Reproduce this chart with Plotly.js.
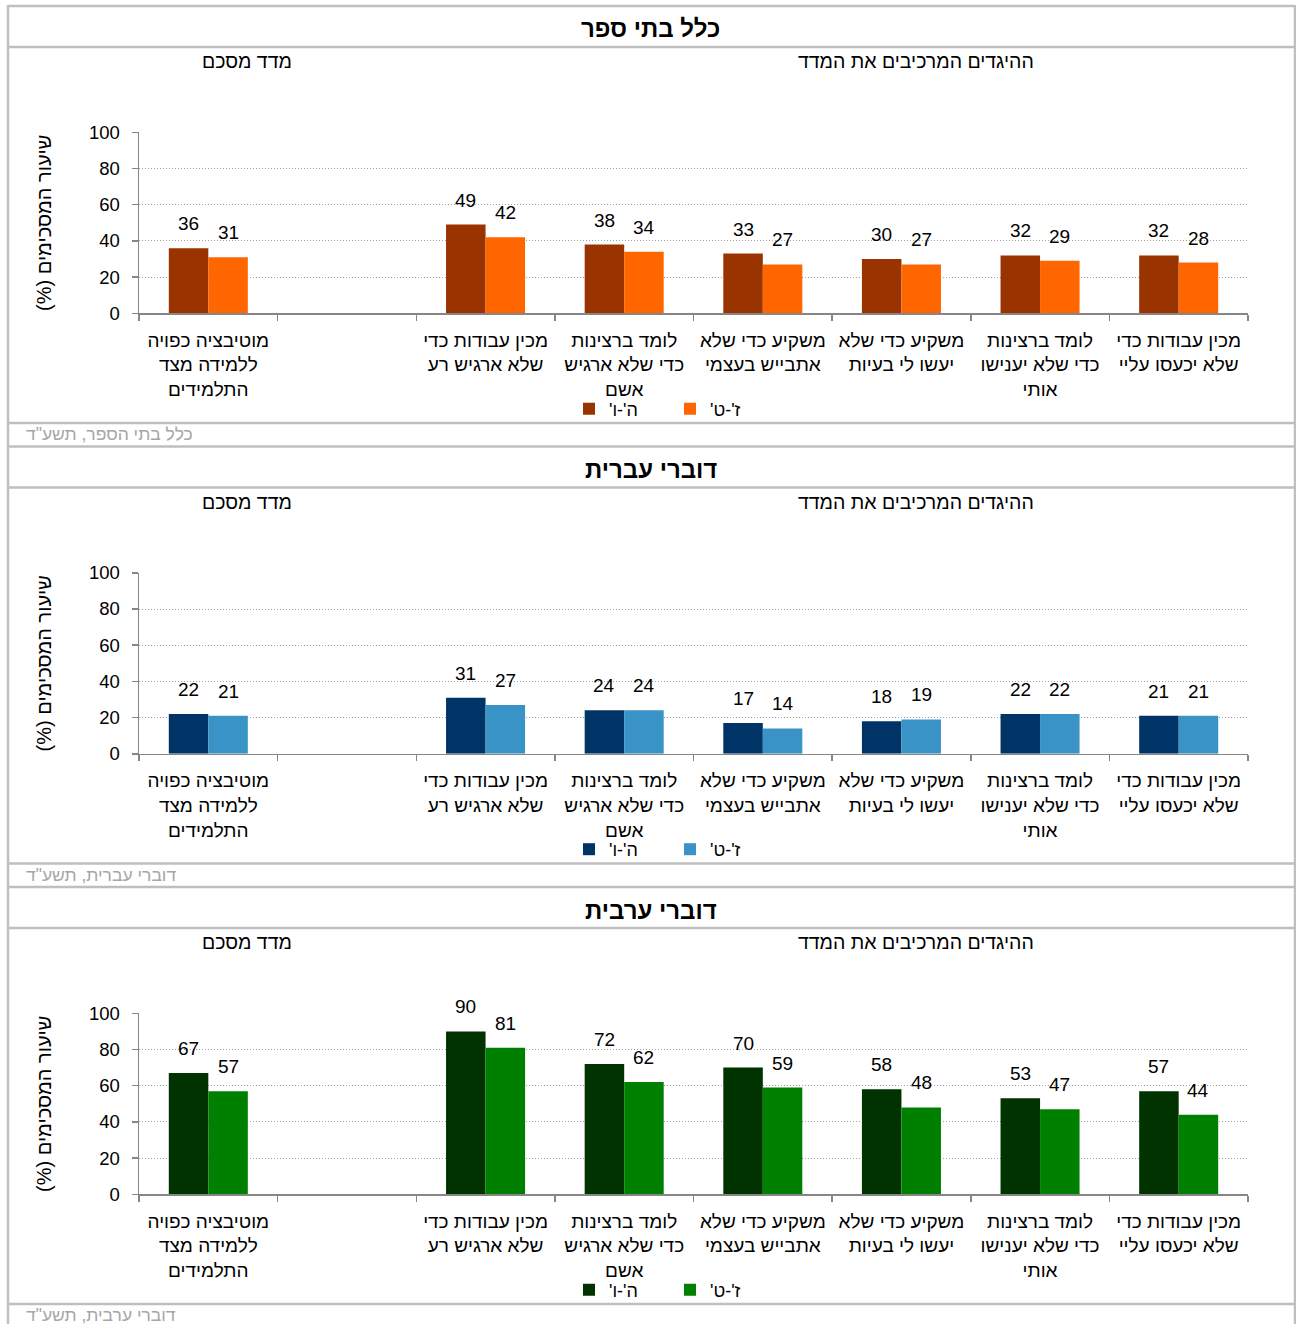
<!DOCTYPE html>
<html>
<head>
<meta charset="utf-8">
<script src="https://cdn.plot.ly/plotly-3.0.1.min.js"></script>
<style>
  html, body { margin: 0; padding: 0; background: #ffffff; }
  #chart { width: 1296px; height: 1324px; }
</style>
</head>
<body>
<div id="chart"></div>
<script>
// ---------- data ----------
const categories = [
  "מוטיבציה כפויה<br>ללמידה מצד<br>התלמידים",
  " ",
  "מכין עבודות כדי<br>שלא ארגיש רע",
  "לומד ברצינות<br>כדי שלא ארגיש<br>אשם",
  "משקיע כדי שלא<br>אתבייש בעצמי",
  "משקיע כדי שלא<br>יעשו לי בעיות",
  "לומד ברצינות<br>כדי שלא יענישו<br>אותי",
  "מכין עבודות כדי<br>שלא יכעסו עליי"
];
const seriesNames = ["ה'-ו'", "ז'-ט'"];
const panelTitles = ["כלל בתי ספר", "דוברי עברית", "דוברי ערבית"];
const footers = ["כלל בתי הספר, תשע\"ד", "דוברי עברית, תשע\"ד", "דוברי ערבית, תשע\"ד"];
const summaryHeader = "מדד מסכם";
const itemsHeader = "ההיגדים המרכיבים את המדד";
const yTitle = "שיעור המסכימים (%)";

const all_g56  = [36, null, 49, 38, 33, 30, 32, 32];
const all_g79  = [31, null, 42, 34, 27, 27, 29, 28];
const heb_g56  = [22, null, 31, 24, 17, 18, 22, 21];
const heb_g79  = [21, null, 27, 24, 14, 19, 22, 21];
const arab_g56 = [67, null, 90, 72, 70, 58, 53, 57];
const arab_g79 = [57, null, 81, 62, 59, 48, 47, 44];

const colors = [["#993300", "#FF6600"], ["#003366", "#3993C6"], ["#003300", "#008000"]];

// ---------- layout helpers ----------
const W = 1296, H = 1324;
const PX = v => v / W;
const PY = v => 1 - v / H;
const RLM = "\u200F";
const rtl = s => RLM + s + RLM;
const FONT = "Liberation Sans, Arial, sans-serif";
const PERIOD = 440.5;

const panels = [[all_g56, all_g79], [heb_g56, heb_g79], [arab_g56, arab_g79]];
const traces = [];
const layout = {
  width: W, height: H,
  margin: {l: 0, r: 0, t: 0, b: 0},
  paper_bgcolor: "#ffffff", plot_bgcolor: "#ffffff",
  font: {family: FONT, size: 18, color: "#000000"},
  barmode: "group", bargap: 0.43, bargroupgap: 0,
  showlegend: true,
  shapes: [], annotations: []
};

panels.forEach((pair, p) => {
  const off = p * PERIOD;
  const sfx = p === 0 ? "" : String(p + 1);
  const xa = "x" + sfx, ya = "y" + sfx, lg = "legend" + sfx;
  pair.forEach((vals, s) => {
    traces.push({
      type: "bar", x: categories, y: vals, name: rtl(seriesNames[s]),
      xaxis: xa, yaxis: ya, legend: lg,
      marker: {color: colors[p][s], line: {width: 0}},
      hoverinfo: "x+y"
    });
    vals.forEach((v, i) => {
      if (v === null) return;
      layout.annotations.push({
        xref: xa, yref: ya, x: i, y: v, xshift: s === 0 ? -19.75 : 19.75, yshift: 12,
        text: String(v), showarrow: false, yanchor: "bottom", xanchor: "center",
        font: {size: 19, color: "#000000", family: FONT}
      });
    });
  });
  const y0 = 313.3 + off, y100 = 132.3 + off;
  layout["xaxis" + sfx] = {
    domain: [PX(139), PX(1248)], anchor: ya, type: "category",
    range: [-0.5, 7.5], tickson: "boundaries", ticks: "outside", ticklen: 6,
    tickcolor: "#868686", tickwidth: 1.5, showline: true, linecolor: "#868686", linewidth: 1.5,
    showgrid: false, zeroline: false, tickfont: {size: 19, color: "#000000"},
    ticklabelstandoff: 9, automargin: false, fixedrange: true
  };
  layout["yaxis" + sfx] = {
    domain: [PY(y0), PY(y100)], anchor: xa, range: [0, 100], dtick: 20, tick0: 0,
    ticks: "outside", ticklen: 6, tickcolor: "#868686", tickwidth: 1.5,
    showline: true, linecolor: "#868686", linewidth: 1.5,
    showgrid: true, gridcolor: "#a0a0a0", griddash: "1px,2px", gridwidth: 1,
    zeroline: false, tickfont: {size: 18.5, color: "#000000"}, ticklabelstandoff: 8,
    title: {text: rtl(yTitle), font: {size: 20, color: "#000000"}, standoff: 32},
    automargin: false, fixedrange: true
  };
  layout[lg] = {
    orientation: "h", x: PX(670), xanchor: "center", y: PY(409 + off), yanchor: "middle",
    font: {size: 18, color: "#000000"}, bgcolor: "rgba(0,0,0,0)", itemwidth: 30,
    entrywidth: 56, traceorder: "normal"
  };
  // panel title
  layout.annotations.push({
    xref: "paper", yref: "paper", x: PX(651), y: PY(29 + off), xanchor: "center", yanchor: "middle",
    text: "<b>" + rtl(panelTitles[p]) + "</b>", showarrow: false, font: {size: 24, color: "#000000"}
  });
  // sub headers
  layout.annotations.push({
    xref: "paper", yref: "paper", x: PX(247), y: PY(61 + off), xanchor: "center", yanchor: "middle",
    text: rtl(summaryHeader), showarrow: false, font: {size: 19.5, color: "#000000"}
  });
  layout.annotations.push({
    xref: "paper", yref: "paper", x: PX(916), y: PY(61 + off), xanchor: "center", yanchor: "middle",
    text: rtl(itemsHeader), showarrow: false, font: {size: 19.5, color: "#000000"}
  });
  // footer
  layout.annotations.push({
    xref: "paper", yref: "paper", x: PX(24), y: PY(434 + off), xanchor: "left", yanchor: "middle",
    text: rtl(footers[p]), showarrow: false, font: {size: 17.5, color: "#a6a6a6"}
  });
  // frame lines
  [6, 47, 423].forEach(yy => {
    layout.shapes.push({type: "line", xref: "paper", yref: "paper",
      x0: PX(8), x1: PX(1295), y0: PY(yy + off), y1: PY(yy + off),
      line: {color: "#bfbfbf", width: 2.5}});
  });
});
layout.shapes.push({type: "line", xref: "paper", yref: "paper",
  x0: PX(8), x1: PX(8), y0: PY(5), y1: 0, line: {color: "#bfbfbf", width: 2.5}});
layout.shapes.push({type: "line", xref: "paper", yref: "paper",
  x0: PX(1295), x1: PX(1295), y0: PY(5), y1: 0, line: {color: "#bfbfbf", width: 2.5}});

Plotly.newPlot("chart", traces, layout, {displayModeBar: false, staticPlot: true});
</script>
</body>
</html>
